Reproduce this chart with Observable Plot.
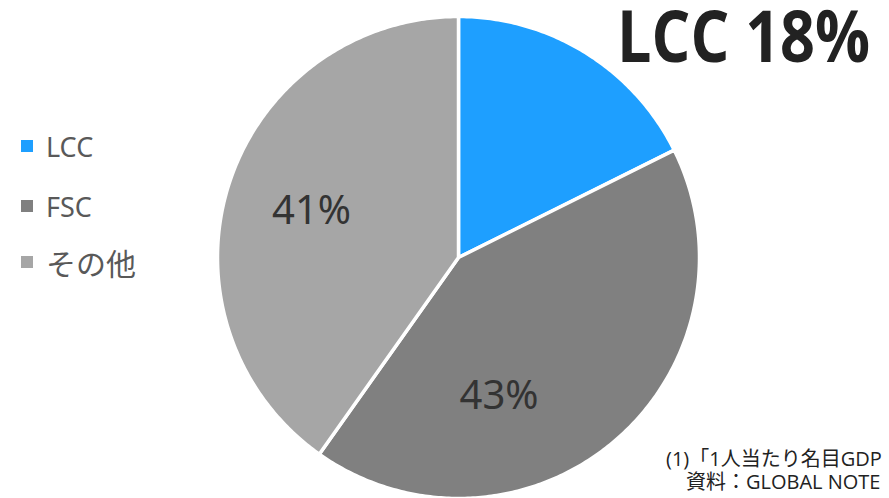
<!DOCTYPE html>
<html><head><meta charset="utf-8">
<script src="https://cdn.jsdelivr.net/npm/d3@7"></script>
<script src="https://cdn.jsdelivr.net/npm/@observablehq/plot@0.6"></script>
<style>
html,body{margin:0;padding:0;background:#fff;}
#wrap{position:relative;width:889px;height:498px;overflow:hidden;font-family:"Noto Sans","Noto Sans CJK JP",sans-serif;}
#wrap svg{position:absolute;left:0;top:0;}
.leg{position:absolute;left:21px;display:flex;align-items:center;font-size:27px;color:#595959;font-family:"Noto Sans","Noto Sans CJK JP",sans-serif;}
.leg i{display:inline-block;width:12px;height:12px;margin-right:13px;}
.leg .cjk{font-size:30px;font-family:"Noto Sans CJK JP",sans-serif;}
#note{position:absolute;left:666px;top:447px;font-size:20px;color:#222;line-height:23px;white-space:nowrap;font-family:"Open Sans","Noto Sans CJK JP",sans-serif;}
</style></head>
<body><div id="wrap"></div>
<script>
const categories = ["LCC", "FSC", "その他"];
const shares = [18, 43, 41];
const labels = ["", "43%", "41%"];
const colors = ["#1E9FFF", "#808080", "#A6A6A6"];
const titleText = "LCC 18%";
const noteLines = ["(1)「1人当たり名目GDP", "　資料：GLOBAL NOTE"];

const W = 889, H = 498, cx = 458, cy = 257, R = 241;
const labelAt = [0.5, 0.66, 0.5];   // fraction along each slice's arc
const labelR = [0.6, 0.6, 0.64];

const pie = d3.pie().sort(null).value(d => d)(shares);
const pts = [];
pie.forEach((p, i) => {
  const n = Math.max(4, Math.ceil((p.endAngle - p.startAngle) * 90));
  pts.push({name: categories[i], x: cx, y: cy});
  for (let k = 0; k <= n; k++) {
    const a = p.startAngle + (p.endAngle - p.startAngle) * k / n;
    pts.push({name: categories[i], x: cx + R * Math.sin(a), y: cy - R * Math.cos(a)});
  }
});
const lab = pie.map((p, i) => {
  const a = p.startAngle + (p.endAngle - p.startAngle) * labelAt[i];
  return {text: labels[i], x: cx + R * labelR[i] * Math.sin(a), y: cy - R * labelR[i] * Math.cos(a)};
}).filter(d => d.text);

const chart = Plot.plot({
  width: W, height: H, margin: 0,
  x: {domain: [0, W], range: [0, W], axis: null},
  y: {domain: [0, H], range: [0, H], axis: null},
  color: {domain: categories, range: colors},
  marks: [
    Plot.line(pts, {x: "x", y: "y", z: "name", fill: "name", stroke: "white", strokeWidth: 3.5, curve: "linear-closed", strokeLinejoin: "round"}),
    Plot.text(lab, {x: "x", y: "y", text: "text", fontSize: 40, fill: "#333", fontFamily: "Noto Sans"})
  ]
});
const wrap = document.getElementById("wrap");
wrap.appendChild(chart);

// title as SVG text fitted to width
d3.select(chart).append("text")
  .attr("x", 617).attr("y", 62)
  .attr("text-anchor", "start")
  .attr("textLength", 253).attr("lengthAdjust", "spacingAndGlyphs")
  .attr("font-family", "Open Sans").attr("font-weight", "bold")
  .attr("font-size", 71).attr("fill", "#222")
  .text(titleText);

const tops = [146, 206, 262];
categories.forEach((c, i) => {
  const d = document.createElement("div");
  d.className = "leg";
  d.style.top = (tops[i] - 19) + "px";
  d.style.height = "38px";
  const cjk = /[^\x00-\x7f]/.test(c);
  d.innerHTML = `<i style="background:${colors[i]}"></i><span class="${cjk ? "cjk" : ""}">${c}</span>`;
  wrap.appendChild(d);
});
const n = document.createElement("div");
n.id = "note"; n.innerHTML = noteLines.join("<br>");
wrap.appendChild(n);
</script></body></html>
